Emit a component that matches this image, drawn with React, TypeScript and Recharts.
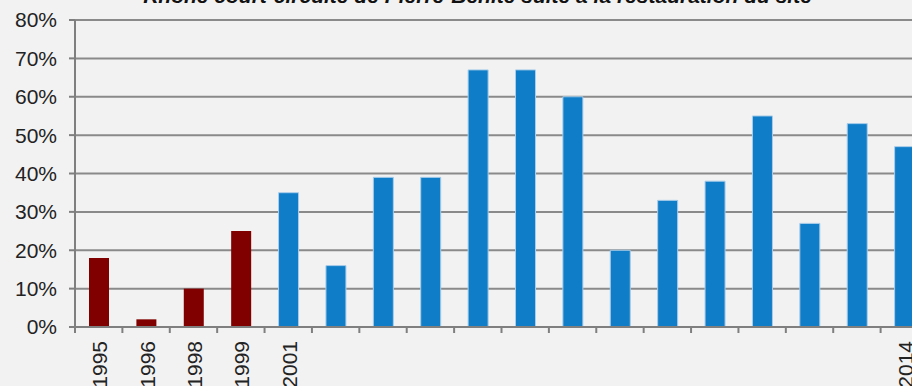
import { BarChart, Bar, XAxis, YAxis, CartesianGrid, Cell } from 'recharts';

const years = [
  '1995', '1996', '1998', '1999', '2001', '2002', '2003', '2004', '2005',
  '2006', '2007', '2008', '2009', '2010', '2011', '2012', '2013', '2014',
];
const shares = [18, 2, 10, 25, 35, 16, 39, 39, 67, 67, 60, 20, 33, 38, 55, 27, 53, 47];
// années affichées sous l'axe
const shownYears = ['1995', '1996', '1998', '1999', '2001', '2014'];
const beforeWorks = ['1995', '1996', '1998', '1999'];
const yTicks = [0, 10, 20, 30, 40, 50, 60, 70, 80];

const title = 'Rhône court-circuité de Pierre-Bénite suite à la restauration du site';

const data = years.map((year, i) => ({ year, share: shares[i] }));

const CHART_W = 940;
const LEFT = 75;
const RIGHT = 12;
const BAND = (CHART_W - LEFT - RIGHT) / years.length;
const font = '"Liberation Sans", Arial, sans-serif';

function YearTick({ x, y, payload }: any) {
  const left = x - BAND / 2;
  const ty = y + 6;
  return (
    <g>
      <line x1={left} y1={y - 8} x2={left} y2={y - 2} stroke="#7f7f7f" strokeWidth={2} />
      {shownYears.includes(payload.value) && (
        <text
          x={x + 1}
          y={ty}
          dy="0.36em"
          transform={`rotate(-90, ${x + 1}, ${ty})`}
          textAnchor="end"
          fontSize={21}
          fontFamily={font}
          fill="#222"
        >
          {payload.value}
        </text>
      )}
    </g>
  );
}

export default function App() {
  return (
    <div
      style={{
        position: 'fixed', top: 0, left: 0, width: 912, height: 386,
        overflow: 'hidden', background: '#f2f2f2',
      }}
    >
      <div
        style={{
          position: 'absolute', top: -16, left: 0, width: 955, textAlign: 'center',
          fontFamily: font, fontSize: 21, fontWeight: 'bold', fontStyle: 'italic', color: '#111',
          whiteSpace: 'nowrap',
        }}
      >
        {title}
      </div>
      <BarChart
        width={CHART_W}
        height={386}
        data={data}
        margin={{ top: 20, right: RIGHT, left: 0, bottom: 0 }}
        barSize={20}
      >
        <CartesianGrid vertical={false} stroke="#8a8a8a" strokeWidth={2} />
        <XAxis
          dataKey="year"
          height={59}
          interval={0}
          tickLine={false}
          axisLine={{ stroke: '#7f7f7f', strokeWidth: 2 }}
          tick={<YearTick />}
        />
        <YAxis
          width={LEFT}
          domain={[0, 80]}
          ticks={yTicks}
          tickFormatter={(v) => `${v}%`}
          axisLine={{ stroke: '#7f7f7f', strokeWidth: 2 }}
          tickLine={{ stroke: '#7f7f7f', strokeWidth: 2 }}
          tickSize={6}
          tickMargin={12}
          tick={{ fontSize: 21, fontFamily: font, fill: '#222' }}
        />
        <Bar dataKey="share" isAnimationActive={false}>
          {data.map((d) => (
            <Cell
              key={d.year}
              fill={beforeWorks.includes(d.year) ? '#800000' : '#0f7dc7'}
              stroke={beforeWorks.includes(d.year) ? 'none' : '#a9cdea'}
              strokeWidth={1}
            />
          ))}
        </Bar>
      </BarChart>
    </div>
  );
}
